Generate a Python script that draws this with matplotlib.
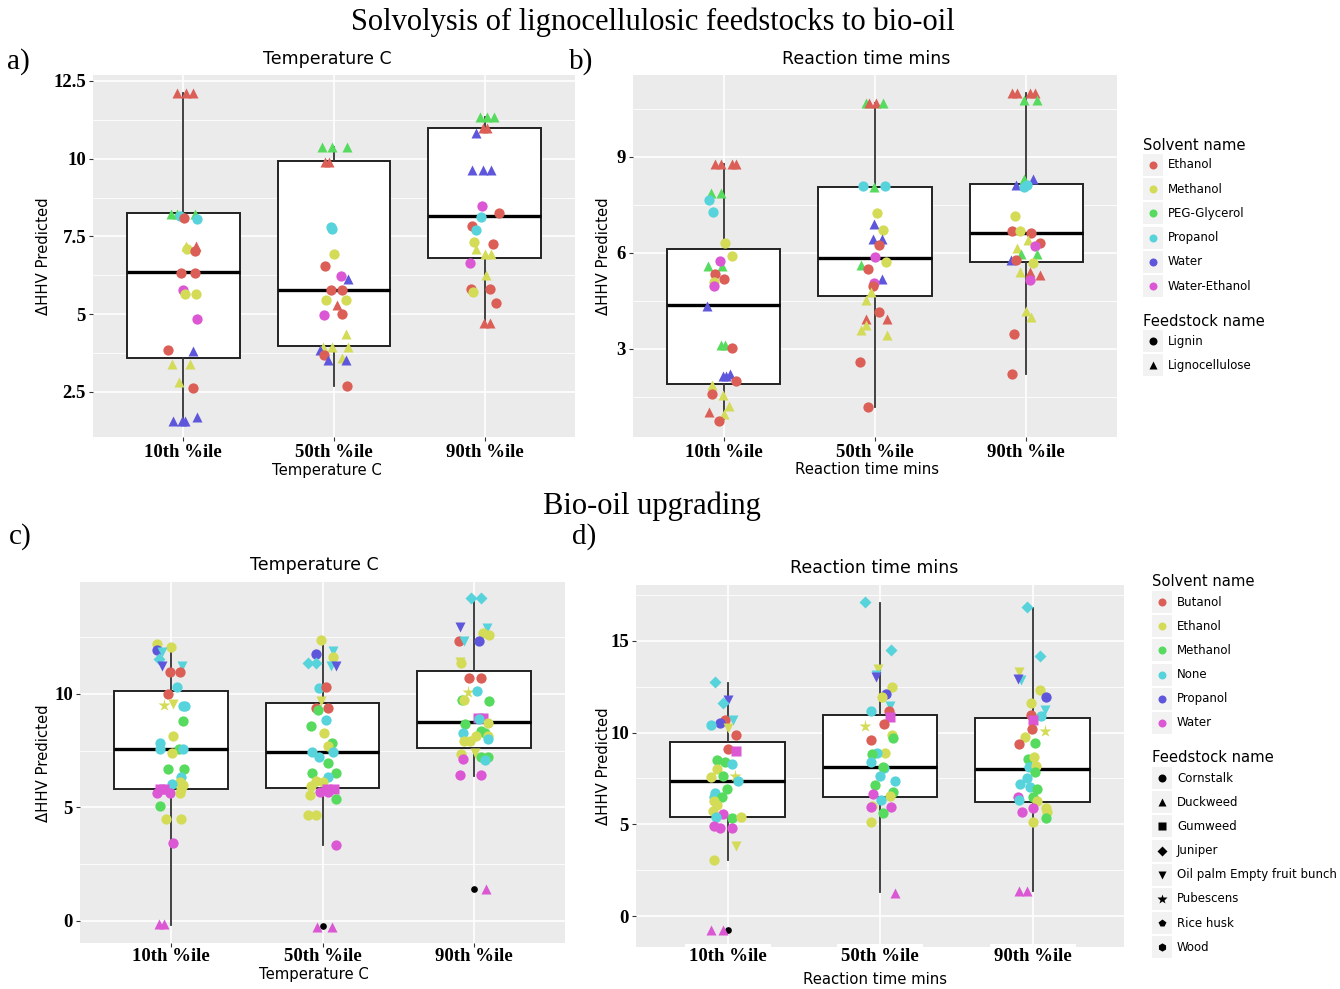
import matplotlib
matplotlib.use("Agg")
import matplotlib.pyplot as plt
import seaborn as sns
from matplotlib.lines import Line2D
from matplotlib.patches import Rectangle

W, H = 1340, 989
SERIF = "Liberation Serif"

categories = ["10th %ile", "50th %ile", "90th %ile"]

solvents_top = ["Ethanol", "Methanol", "PEG-Glycerol", "Propanol", "Water", "Water-Ethanol"]
feeds_top = ["Lignin", "Lignocellulose"]
solvents_bottom = ["Butanol", "Ethanol", "Methanol", "None", "Propanol", "Water"]
feeds_bottom = ["Cornstalk", "Duckweed", "Gumweed", "Juniper",
                "Oil palm Empty fruit bunch", "Pubescens", "Rice husk", "Wood"]

# box summaries (q1, median, q3, whisker low, whisker high, outliers) per percentile group
a_q1 = [3.60, 3.97, 6.79]
a_med = [6.34, 5.77, 8.15]
a_q3 = [8.24, 9.93, 11.00]
a_lo = [1.56, 2.70, 4.70]
a_hi = [12.12, 10.36, 11.33]
a_out = [[], [], []]

b_q1 = [1.90, 4.66, 5.70]
b_med = [4.35, 5.83, 6.60]
b_q3 = [6.10, 8.06, 8.16]
b_lo = [0.80, 1.17, 2.21]
b_hi = [8.76, 10.67, 10.98]
b_out = [[], [], []]

c_q1 = [5.82, 5.86, 7.64]
c_med = [7.58, 7.44, 8.75]
c_q3 = [10.15, 9.60, 10.99]
c_lo = [-0.16, 3.34, 6.39]
c_hi = [12.03, 12.20, 14.24]
c_out = [[], [-0.24], [1.40]]

d_q1 = [5.42, 6.47, 6.20]
d_med = [7.38, 8.11, 8.00]
d_q3 = [9.47, 10.96, 10.82]
d_lo = [3.05, 1.29, 1.36]
d_hi = [12.69, 17.09, 16.78]
d_out = [[-0.76], [], []]

# points: (jitter, dHHV, solvent index, feedstock index)
a_10 = [(-0.04, 12.12, 0, 1), (0.02, 12.12, 0, 1), (0.066, 12.12, 0, 1),
        (-0.084, 8.22, 2, 1), (-0.044, 8.22, 2, 1), (0.077, 8.22, 2, 1),
        (-0.02, 8.15, 3, 0), (0.088, 8.05, 3, 0), (0.004, 8.10, 0, 0),
        (0.02, 7.20, 1, 1), (0.022, 7.11, 1, 0), (0.082, 7.19, 0, 1), (0.077, 7.04, 0, 0),
        (-0.015, 6.31, 0, 0), (0.077, 6.31, 0, 0),
        (-0.004, 5.77, 5, 0), (0.013, 5.64, 1, 0), (0.086, 5.64, 1, 0),
        (0.09, 4.83, 5, 0), (-0.10, 3.86, 0, 0), (0.066, 3.81, 4, 1),
        (-0.073, 3.39, 1, 1), (0.044, 3.39, 1, 1), (-0.027, 2.81, 1, 1), (0.066, 2.64, 0, 0),
        (-0.066, 1.56, 4, 1), (-0.011, 1.56, 4, 1), (0.011, 1.56, 4, 1), (0.093, 1.70, 4, 1)]
a_50 = [(-0.082, 10.36, 2, 1), (-0.011, 10.36, 2, 1), (0.084, 10.36, 2, 1),
        (-0.06, 9.90, 0, 1), (-0.031, 9.90, 0, 1),
        (-0.022, 7.81, 3, 0), (-0.015, 7.73, 3, 0), (0.0, 6.93, 1, 0), (-0.06, 6.56, 0, 0),
        (0.046, 6.22, 5, 0), (0.091, 6.12, 4, 1),
        (-0.022, 5.77, 0, 0), (0.051, 5.77, 0, 0), (-0.051, 5.47, 1, 0), (0.077, 5.47, 1, 0),
        (0.018, 5.29, 0, 1), (0.051, 5.02, 0, 0), (-0.064, 4.98, 5, 0), (0.077, 4.35, 1, 1),
        (-0.071, 3.95, 1, 1), (-0.011, 3.95, 1, 1), (0.095, 3.95, 1, 1),
        (-0.093, 3.84, 4, 1), (-0.064, 3.68, 0, 0),
        (0.051, 3.58, 1, 1), (-0.037, 3.54, 4, 1), (0.077, 3.54, 4, 1), (0.088, 2.70, 0, 0)]
a_90 = [(-0.033, 11.33, 2, 1), (0.015, 11.33, 2, 1), (0.06, 11.33, 2, 1),
        (-0.011, 10.98, 0, 1), (0.015, 10.98, 0, 1), (-0.055, 10.82, 4, 1),
        (-0.082, 9.64, 4, 1), (-0.011, 9.64, 4, 1), (0.044, 9.64, 4, 1),
        (-0.015, 8.48, 5, 0), (0.095, 8.24, 0, 0), (-0.022, 8.11, 3, 0),
        (-0.082, 7.84, 0, 0), (-0.055, 7.70, 3, 0), (-0.071, 7.33, 1, 0), (0.055, 7.27, 0, 0),
        (-0.06, 7.11, 1, 1), (0.0, 6.92, 1, 1), (0.044, 6.92, 1, 1), (-0.10, 6.66, 5, 0),
        (0.011, 6.26, 1, 1), (-0.088, 5.82, 0, 0), (0.033, 5.82, 0, 0), (-0.077, 5.70, 1, 0),
        (0.073, 5.36, 0, 0), (-0.007, 4.70, 0, 1), (0.037, 4.70, 0, 1)]

b_10 = [(-0.06, 8.76, 0, 1), (-0.015, 8.76, 0, 1), (0.057, 8.76, 0, 1), (0.08, 8.76, 0, 1),
        (-0.082, 7.85, 2, 1), (-0.015, 7.85, 2, 1), (-0.097, 7.64, 3, 0), (-0.071, 7.27, 3, 0),
        (0.007, 6.29, 1, 0), (0.055, 5.89, 1, 0),
        (-0.104, 5.58, 2, 1), (-0.009, 5.58, 2, 1), (-0.022, 5.74, 5, 0),
        (-0.06, 5.32, 0, 0), (0.002, 5.18, 0, 0), (-0.066, 5.09, 1, 0), (-0.066, 4.95, 5, 0),
        (-0.108, 4.33, 4, 1), (-0.015, 3.10, 2, 1), (0.007, 3.10, 2, 1), (0.055, 3.03, 0, 0),
        (-0.004, 2.16, 4, 1), (0.018, 2.16, 4, 1), (0.044, 2.21, 4, 1), (0.08, 1.99, 0, 0),
        (-0.077, 1.85, 1, 1), (-0.075, 1.57, 0, 0), (-0.004, 1.54, 1, 1), (0.035, 1.22, 1, 1),
        (-0.099, 1.01, 0, 1), (0.002, 0.96, 1, 1), (-0.033, 0.73, 0, 0)]
b_50 = [(-0.062, 10.67, 2, 1), (-0.04, 10.67, 0, 1), (0.007, 10.67, 0, 1), (0.055, 10.67, 2, 1),
        (-0.004, 8.06, 2, 1), (-0.077, 8.09, 3, 0), (0.066, 8.09, 3, 0),
        (0.011, 7.23, 1, 0), (-0.004, 6.91, 4, 1), (0.05, 6.70, 1, 0),
        (-0.011, 6.42, 4, 1), (0.044, 6.42, 4, 1), (0.029, 6.25, 0, 0), (0.0, 5.87, 5, 0),
        (0.071, 5.71, 1, 0), (-0.093, 5.61, 2, 1), (-0.049, 5.48, 0, 0), (0.044, 5.19, 4, 1),
        (-0.007, 5.05, 5, 0), (-0.015, 4.95, 0, 0), (-0.026, 4.77, 1, 1), (-0.062, 4.51, 1, 1),
        (0.029, 4.13, 0, 0), (-0.062, 3.94, 0, 1), (0.077, 3.94, 0, 1),
        (-0.062, 3.73, 1, 1), (-0.093, 3.57, 1, 1), (0.077, 3.42, 1, 1),
        (-0.099, 2.58, 0, 0), (-0.049, 1.17, 0, 0)]
b_90 = [(-0.095, 10.98, 0, 1), (-0.062, 10.98, 0, 1), (0.026, 10.98, 0, 1), (0.06, 10.98, 0, 1),
        (-0.018, 10.77, 2, 1), (0.071, 10.77, 2, 1),
        (-0.013, 8.29, 2, 1), (0.044, 8.30, 4, 1), (-0.066, 8.10, 4, 1),
        (-0.018, 8.04, 3, 0), (0.004, 8.11, 3, 0), (-0.073, 7.14, 1, 0),
        (-0.091, 6.68, 0, 0), (-0.04, 6.68, 1, 0), (0.033, 6.60, 0, 0), (0.009, 6.39, 1, 1),
        (0.088, 6.31, 0, 0), (0.06, 6.21, 5, 0), (-0.062, 6.16, 1, 1),
        (-0.035, 5.97, 2, 1), (0.071, 5.97, 2, 1), (-0.102, 5.78, 4, 1), (-0.066, 5.78, 0, 0),
        (0.044, 5.68, 1, 0), (0.026, 5.39, 0, 1), (0.093, 5.29, 0, 1), (-0.044, 5.40, 1, 1),
        (0.026, 5.16, 5, 0), (0.0, 4.18, 1, 1), (0.033, 3.99, 1, 1),
        (-0.084, 3.47, 0, 0), (-0.095, 2.21, 0, 0)]

c_10 = [(-0.091, 12.18, 1, 0), (0.0, 12.08, 1, 0), (-0.091, 11.93, 4, 0), (-0.057, 11.84, 3, 4),
        (-0.08, 11.52, 3, 3), (-0.057, 11.25, 4, 4), (0.073, 11.25, 3, 4),
        (-0.007, 10.96, 0, 0), (0.062, 10.96, 0, 0), (0.041, 10.29, 3, 0), (-0.018, 10.01, 0, 0),
        (-0.046, 9.50, 1, 5), (0.011, 9.56, 1, 4), (0.08, 9.46, 3, 0), (0.096, 9.46, 3, 0),
        (0.08, 8.81, 2, 0), (0.016, 8.13, 1, 0),
        (-0.073, 7.84, 3, 0), (-0.069, 7.58, 3, 0), (0.05, 7.58, 2, 0), (0.08, 7.58, 3, 0),
        (0.005, 7.39, 1, 0), (-0.018, 6.69, 2, 0), (0.087, 6.69, 2, 0),
        (0.069, 6.36, 3, 0), (0.057, 6.14, 1, 0), (0.08, 6.00, 1, 0), (0.007, 6.02, 3, 0),
        (0.065, 5.80, 1, 0), (-0.069, 5.80, 5, 2), (-0.046, 5.80, 5, 2),
        (-0.091, 5.65, 5, 0), (-0.007, 5.65, 5, 0), (0.057, 5.63, 1, 0),
        (-0.069, 5.07, 2, 0), (-0.034, 4.49, 1, 0), (0.069, 4.49, 1, 0), (0.011, 3.42, 5, 0),
        (-0.08, -0.15, 5, 1), (-0.046, -0.15, 5, 1)]
c_50 = [(-0.011, 12.37, 1, 0), (-0.041, 11.78, 4, 0), (0.069, 11.88, 3, 4),
        (-0.098, 11.37, 3, 3), (-0.041, 11.37, 3, 3), (0.069, 11.63, 1, 0),
        (0.057, 11.25, 3, 4), (0.091, 11.22, 4, 4),
        (-0.023, 10.27, 3, 0), (0.023, 10.29, 0, 0), (-0.007, 9.68, 1, 4),
        (-0.041, 9.38, 0, 0), (0.039, 9.38, 0, 0), (-0.03, 9.31, 2, 0), (0.023, 8.84, 3, 0),
        (-0.075, 8.60, 2, 0), (0.009, 8.28, 1, 0), (0.062, 7.86, 2, 0), (0.034, 7.69, 1, 0),
        (-0.069, 7.44, 3, 0), (0.069, 7.44, 3, 0), (-0.023, 7.22, 3, 0), (0.034, 6.95, 2, 0),
        (-0.069, 6.51, 2, 0), (0.091, 6.51, 2, 0), (0.039, 6.32, 3, 0),
        (-0.041, 6.17, 1, 0), (0.005, 6.14, 1, 0), (-0.075, 5.95, 1, 0),
        (0.027, 5.82, 5, 2), (0.078, 5.82, 5, 2), (-0.018, 5.68, 5, 0), (0.039, 5.68, 5, 0),
        (-0.08, 5.55, 1, 0), (0.091, 5.36, 2, 0), (-0.098, 4.67, 1, 0), (-0.046, 4.67, 1, 0),
        (0.091, 3.34, 5, 0), (-0.037, -0.26, 5, 1), (0.062, -0.26, 5, 1)]
c_90 = [(-0.023, 14.24, 3, 3), (0.046, 14.24, 3, 3), (-0.091, 12.95, 4, 4), (0.085, 12.92, 3, 4),
        (0.057, 12.67, 1, 0), (0.098, 12.58, 1, 0),
        (-0.098, 12.33, 0, 0), (-0.069, 12.33, 3, 4), (0.030, 12.33, 4, 0),
        (-0.091, 11.40, 1, 4), (-0.087, 11.37, 1, 0), (-0.034, 10.71, 0, 0), (0.046, 10.71, 0, 0),
        (-0.039, 10.09, 1, 5), (0.018, 10.15, 3, 0),
        (-0.08, 9.75, 2, 0), (-0.069, 9.72, 1, 0), (0.098, 9.68, 2, 0),
        (0.023, 8.94, 5, 2), (0.057, 8.94, 5, 2), (0.034, 8.91, 3, 0),
        (0.091, 8.72, 1, 0), (-0.057, 8.69, 2, 0),
        (0.046, 8.35, 2, 0), (0.069, 8.28, 2, 0), (-0.073, 8.28, 3, 0),
        (0.091, 8.13, 1, 0), (0.011, 8.13, 1, 0), (0.091, 8.03, 3, 0),
        (-0.069, 7.94, 1, 0), (-0.027, 7.94, 1, 0), (-0.087, 7.35, 1, 0), (0.007, 7.40, 1, 4),
        (0.046, 7.22, 2, 0), (0.091, 7.22, 2, 0), (-0.073, 7.14, 5, 0), (0.069, 7.10, 3, 0),
        (-0.091, 6.41, 5, 0), (0.046, 6.41, 5, 0), (0.08, 1.40, 5, 1)]

d_10 = [(-0.08, 12.75, 3, 3), (0.0, 11.78, 4, 4), (-0.03, 11.64, 3, 3),
        (0.034, 10.69, 3, 4), (-0.018, 10.69, 0, 0), (-0.048, 10.55, 4, 0), (-0.105, 10.42, 3, 0),
        (0.005, 10.27, 1, 4), (0.057, 9.87, 0, 0), (0.0, 9.11, 0, 0), (0.055, 8.98, 5, 2),
        (-0.07, 8.51, 2, 0), (-0.018, 8.38, 2, 0), (0.032, 8.29, 3, 0), (-0.07, 8.00, 1, 0),
        (-0.105, 7.60, 1, 0), (-0.030, 7.64, 2, 0), (0.046, 7.64, 1, 5), (0.066, 7.38, 3, 0),
        (-0.002, 6.91, 2, 0), (-0.082, 6.73, 3, 0), (-0.087, 6.47, 3, 0), (-0.034, 6.47, 2, 0),
        (-0.091, 6.29, 1, 0), (-0.07, 6.05, 1, 0), (-0.098, 5.75, 1, 0),
        (-0.03, 5.55, 5, 0), (-0.075, 5.38, 3, 0), (0.032, 5.33, 2, 0), (0.089, 5.38, 1, 0),
        (-0.087, 4.93, 5, 0), (-0.052, 4.78, 5, 0), (0.032, 4.78, 5, 0),
        (0.055, 3.82, 1, 4), (-0.091, 3.05, 1, 0),
        (-0.105, -0.76, 5, 1), (-0.030, -0.76, 5, 1)]
d_50 = [(-0.096, 17.15, 3, 3), (0.073, 14.51, 3, 3),
        (-0.011, 13.45, 1, 4), (-0.027, 13.15, 3, 4), (-0.023, 13.05, 4, 4),
        (0.080, 12.51, 1, 0), (0.041, 12.11, 4, 0), (0.011, 11.93, 1, 0), (0.064, 11.47, 3, 4),
        (-0.062, 11.20, 3, 0), (0.057, 11.20, 0, 0), (0.068, 10.87, 5, 2),
        (-0.096, 10.38, 1, 5), (0.023, 10.47, 0, 0), (0.080, 9.87, 1, 0),
        (-0.057, 9.60, 0, 0), (0.087, 9.69, 2, 0),
        (0.034, 8.91, 1, 0), (-0.018, 8.88, 3, 0), (-0.05, 8.84, 2, 0), (-0.057, 8.38, 3, 0),
        (0.023, 8.05, 3, 0), (0.018, 8.11, 2, 0), (0.0, 7.64, 3, 0), (0.096, 7.36, 3, 0),
        (-0.034, 7.15, 2, 0), (0.087, 6.75, 2, 0), (-0.046, 6.64, 5, 0), (0.064, 6.55, 1, 0),
        (0.005, 6.33, 3, 0), (-0.052, 6.00, 1, 0), (-0.057, 5.93, 5, 0), (0.073, 5.93, 5, 0),
        (0.018, 5.60, 2, 0), (-0.057, 5.11, 1, 0), (0.096, 1.24, 5, 1)]
d_90 = [(-0.034, 16.87, 3, 3), (0.05, 14.20, 3, 3),
        (-0.087, 13.33, 1, 4), (-0.075, 12.88, 3, 4), (-0.096, 12.91, 4, 4),
        (0.046, 12.33, 1, 0), (0.091, 11.93, 4, 0), (-0.007, 11.60, 1, 0),
        (0.084, 11.24, 3, 4), (0.057, 10.91, 3, 0), (-0.011, 10.96, 0, 0), (0.005, 10.69, 5, 2),
        (-0.005, 10.18, 0, 0), (0.080, 10.09, 1, 5), (-0.046, 9.75, 1, 0),
        (-0.087, 9.36, 0, 0), (0.018, 9.45, 2, 0), (-0.03, 8.56, 2, 0), (0.011, 8.69, 1, 0),
        (-0.023, 8.15, 3, 0), (0.023, 8.18, 1, 0), (0.018, 7.87, 2, 0), (-0.039, 7.51, 3, 0),
        (-0.08, 7.20, 3, 0), (-0.018, 7.05, 3, 0), (0.027, 6.91, 2, 0),
        (-0.098, 6.47, 5, 0), (0.0, 6.47, 2, 0), (-0.091, 6.33, 3, 0), (0.027, 6.29, 1, 0),
        (0.0, 5.87, 5, 0), (0.087, 5.87, 1, 0), (0.096, 5.65, 1, 0), (-0.068, 5.65, 5, 0),
        (0.087, 5.33, 2, 0), (0.005, 5.11, 1, 0),
        (-0.087, 1.38, 5, 1), (-0.034, 1.38, 5, 1)]

palette = sns.color_palette("hls", 6)
markers_top = ["o", "^"]
markers_bottom = ["o", "^", "s", "D", "v", "*", "p", "h"]
msize = {"o": 7.4, "^": 7.6, "s": 6.6, "D": 6.6, "v": 7.6, "*": 9.5, "p": 7.6, "h": 7.6}


def fx(x):
    return x / W


def fy(y):
    return 1 - y / H


def rect(l, t, r, b):
    return [l / W, 1 - b / H, (r - l) / W, (b - t) / H]


def draw_panel(ax, groups, q1, med, q3, lo, hi, out, markers, ylim, major, minor,
               xpad=2, label_box=False):
    ax.set_facecolor("#EBEBEB")
    for s in ax.spines.values():
        s.set_visible(False)
    stats = []
    for i in range(3):
        stats.append(dict(q1=q1[i], med=med[i], q3=q3[i], whislo=lo[i], whishi=hi[i],
                          fliers=out[i]))
    ax.bxp(stats, positions=[1, 2, 3], widths=0.75, patch_artist=True, showcaps=False,
           boxprops=dict(facecolor="white", edgecolor="#222222", linewidth=1.4),
           medianprops=dict(color="black", linewidth=2.4),
           whiskerprops=dict(color="#333333", linewidth=1.3),
           flierprops=dict(marker="o", markerfacecolor="black", markeredgecolor="black",
                           markersize=3.8), zorder=2)
    for gi, pts in enumerate(groups):
        for dx, val, si, fi in pts:
            m = markers[fi]
            ax.plot(gi + 1 + dx, val, marker=m, ls="none", ms=msize[m], color=palette[si],
                    mec="none", zorder=3)
    ax.set_xlim(0.4, 3.6)
    ax.set_ylim(*ylim)
    ax.set_xticks([1, 2, 3], categories, fontfamily=SERIF, fontweight="bold", fontsize=13.5)
    ax.set_yticks(major, ["%g" % v for v in major], fontfamily=SERIF, fontweight="bold",
                  fontsize=13.5)
    ax.set_yticks(minor, minor=True)
    ax.tick_params(which="major", length=3, width=0.8, color="#333333", pad=2)
    ax.tick_params(axis="x", which="major", pad=xpad)
    ax.tick_params(which="minor", length=0)
    if label_box:
        for t in ax.get_xticklabels():
            t.set_bbox(dict(facecolor="white", edgecolor="none", pad=3))
    ax.grid(which="major", color="white", linewidth=1.2)
    ax.grid(which="minor", axis="y", color="white", linewidth=0.6)
    ax.set_axisbelow(True)


def draw_legend(fig, x, y_title, solvents, feeds, markers):
    step = 24.2
    fig.text(fx(x), fy(y_title), "Solvent name", fontsize=10.6, va="center", ha="left")
    ys = [y_title + 20 + i * step for i in range(len(solvents))]
    y_feed = ys[-1] + 35
    yf = [y_feed + 20 + i * step for i in range(len(feeds))]
    fig.text(fx(x), fy(y_feed), "Feedstock name", fontsize=10.6, va="center", ha="left")
    items = [(y, "o", palette[i], s) for i, (y, s) in enumerate(zip(ys, solvents))]
    items += [(y, markers[i], "black", f) for i, (y, f) in enumerate(zip(yf, feeds))]
    for y, m, col, lab in items:
        fig.add_artist(Rectangle((fx(x), fy(y + 11)), 20 / W, 22 / H, facecolor="#F2F2F2",
                                 edgecolor="none", transform=fig.transFigure))
        fig.add_artist(Line2D([fx(x + 10)], [fy(y)], marker=m, ls="none",
                              ms=msize[m] * 0.78, color=col, mec="none",
                              transform=fig.transFigure))
        fig.text(fx(x + 25), fy(y), lab, fontsize=8.5, va="center", ha="left")


fig = plt.figure(figsize=(W / 100, H / 100), dpi=100)
fig.patch.set_facecolor("white")

ax_a = fig.add_axes(rect(93, 75, 575, 437))
draw_panel(ax_a, [a_10, a_50, a_90], a_q1, a_med, a_q3, a_lo, a_hi, a_out, markers_top,
           (1.05, 12.69), [2.5, 5, 7.5, 10, 12.5], [3.75, 6.25, 8.75, 11.25])

ax_b = fig.add_axes(rect(633, 75, 1117, 437))
draw_panel(ax_b, [b_10, b_50, b_90], b_q1, b_med, b_q3, b_lo, b_hi, b_out, markers_top,
           (0.24, 11.55), [3, 6, 9], [1.5, 4.5, 7.5, 10.5])

ax_c = fig.add_axes(rect(80, 582, 565, 943))
draw_panel(ax_c, [c_10, c_50, c_90], c_q1, c_med, c_q3, c_lo, c_hi, c_out, markers_bottom,
           (-0.97, 14.93), [0, 5, 10], [2.5, 7.5, 12.5], xpad=0.5)

ax_d = fig.add_axes(rect(636, 585, 1124, 947))
draw_panel(ax_d, [d_10, d_50, d_90], d_q1, d_med, d_q3, d_lo, d_hi, d_out, markers_bottom,
           (-1.69, 18.05), [0, 5, 10, 15], [2.5, 7.5, 12.5, 17.5], xpad=-2.5, label_box=True)

# figure texts
fig.text(fx(653), fy(22), "Solvolysis of lignocellulosic feedstocks to bio-oil",
         fontfamily=SERIF, fontsize=22, ha="center", va="center")
fig.text(fx(652), fy(506), "Bio-oil upgrading", fontfamily=SERIF, fontsize=22,
         ha="center", va="center")
for lab, x, y in [("a)", 7, 62), ("b)", 569, 62), ("c)", 9, 537), ("d)", 572, 537)]:
    fig.text(fx(x), fy(y), lab, fontfamily=SERIF, fontsize=21, ha="left", va="center")

for lab, x, y in [("Temperature C", 327, 59), ("Reaction time mins", 866, 59),
                  ("Temperature C", 314, 565), ("Reaction time mins", 874, 568)]:
    fig.text(fx(x), fy(y), lab, fontsize=12.5, ha="center", va="center")

for lab, x, y in [("Temperature C", 327, 470), ("Reaction time mins", 867, 470),
                  ("Temperature C", 314, 975), ("Reaction time mins", 875, 980)]:
    fig.text(fx(x), fy(y), lab, fontsize=10.7, ha="center", va="center")

for x, y in [(44, 256), (604, 256), (43, 763), (604, 766)]:
    fig.text(fx(x), fy(y), "ΔHHV Predicted", fontsize=10.7, rotation=90,
             ha="center", va="center")

draw_legend(fig, 1143, 145, solvents_top, feeds_top, markers_top)
draw_legend(fig, 1152, 582, solvents_bottom, feeds_bottom, markers_bottom)

fig.savefig("out.png", dpi=100)
